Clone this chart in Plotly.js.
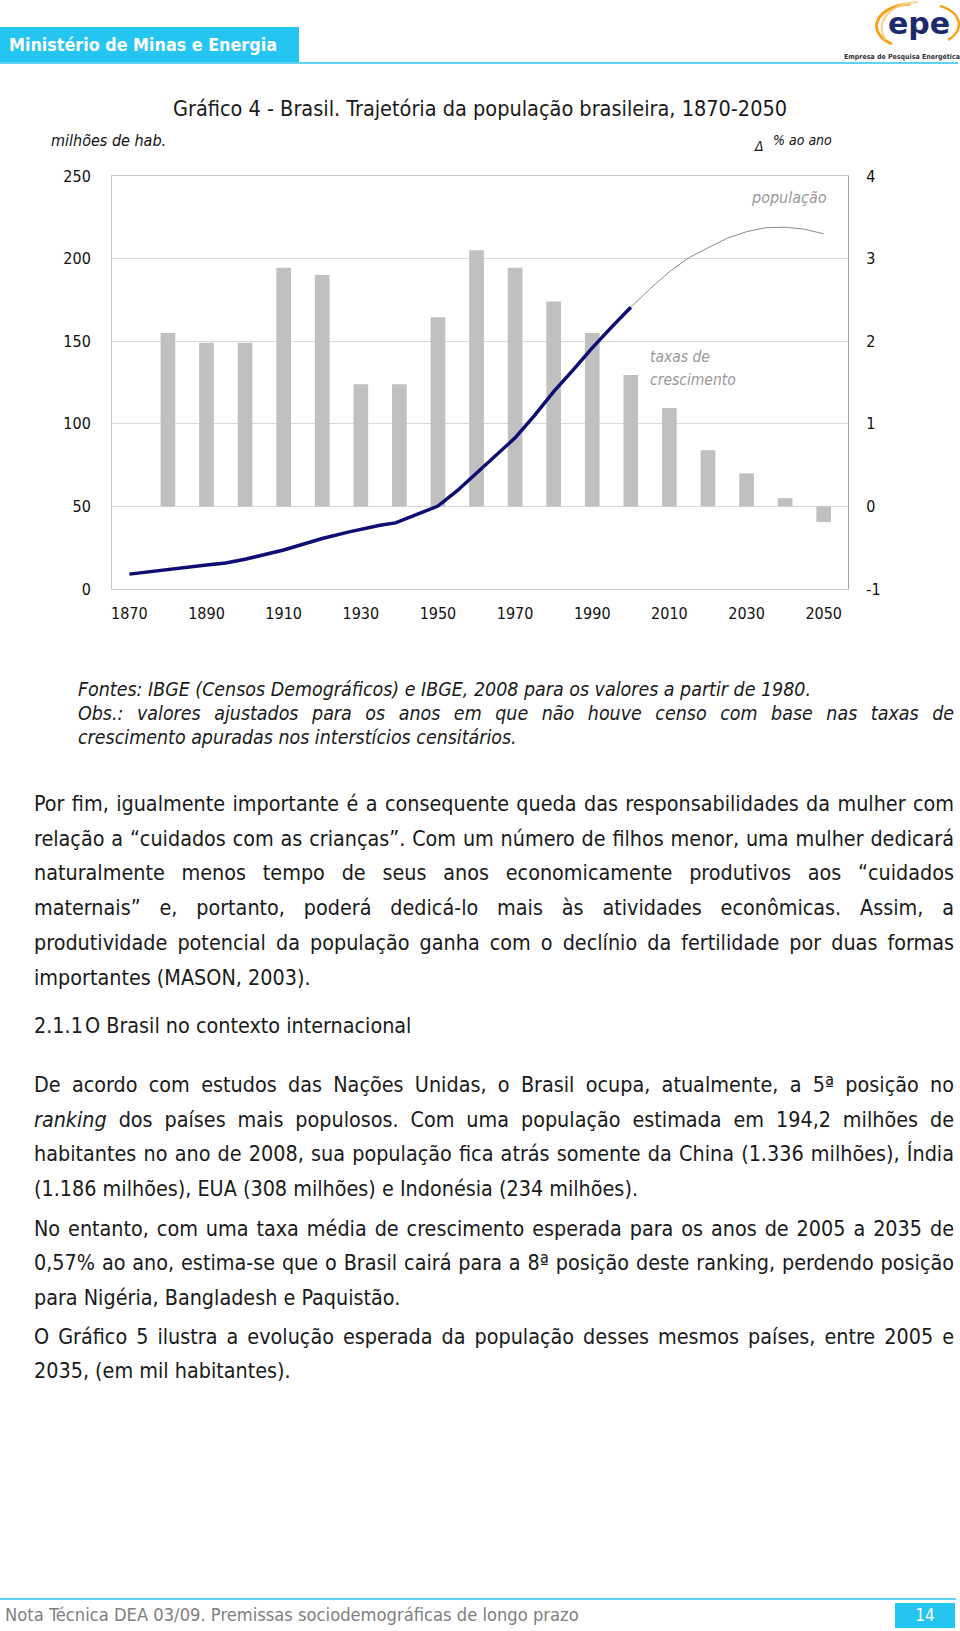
<!DOCTYPE html>
<html>
<head>
<meta charset="utf-8">
<script src="https://cdn.plot.ly/plotly-3.0.1.min.js"></script>
<style>
  html, body { margin:0; padding:0; background:#fff; }
  body { width:960px; height:1631px; position:relative; overflow:hidden;
         font-family:"DejaVu Sans Condensed","DejaVu Sans",sans-serif; color:#1a1a1a; }
  .abs { position:absolute; }
  .ln { position:absolute; left:34px; width:920px; height:26px; line-height:26px;
        font-size:19px; white-space:nowrap; text-align:justify; text-align-last:justify; }
  .note { position:absolute; left:78px; width:876px; height:22px; line-height:22px;
          font-size:15px; font-style:italic; white-space:nowrap; text-align:justify; text-align-last:justify; }
  .ln.last, .note.last { text-align:left; text-align-last:left; }
</style>
</head>
<body>
<!-- header -->
<div class="abs" style="left:0;top:27px;width:299px;height:36px;background:#25c5f2;"></div>
<div class="abs" style="left:9px;top:27px;height:36px;line-height:36px;font-size:17.8px;font-weight:bold;color:#fff;">Ministério de Minas e Energia</div>
<div class="abs" style="left:0;top:62px;width:958px;height:2px;background:#5fd3f3;"></div>
<svg class="abs" style="left:840px;top:0;" width="120" height="62">
  <path d="M 52 44 A 36 22 0 0 1 70 4" fill="none" stroke="#f7a21b" stroke-width="3"/>
  <path d="M 46 40 A 38 26 0 0 1 78 2" fill="none" stroke="#fbd08a" stroke-width="2"/>
  <path d="M 100 6 A 30 20 0 0 1 108 40" fill="none" stroke="#f7a21b" stroke-width="2.5"/>
  <text x="79" y="34" text-anchor="middle" font-family="DejaVu Sans, sans-serif" font-size="30" font-weight="bold" fill="#1c2a6e">epe</text>
  <text x="62" y="59" text-anchor="middle" font-family="DejaVu Sans Condensed, DejaVu Sans, sans-serif" font-size="7" font-weight="bold" fill="#333">Empresa de Pesquisa Energética</text>
</svg>

<!-- chart -->
<div id="chart" class="abs" style="left:0;top:80px;width:960px;height:580px;"></div>

<!-- notes -->
<div class="note last" id="fontes" style="top:679px;">Fontes: IBGE (Censos Demográficos) e IBGE, 2008 para os valores a partir de 1980.</div>
<div class="note" style="top:703px;">Obs.: valores ajustados para os anos em que não houve censo com base nas taxas de</div>
<div class="note last" style="top:727px;">crescimento apuradas nos interstícios censitários.</div>

<!-- body text -->
<div class="ln" id="ref1" style="top:791px;">Por fim, igualmente importante é a consequente queda das responsabilidades da mulher com</div>
<div class="ln" style="top:825.7px;">relação a “cuidados com as crianças”. Com um número de filhos menor, uma mulher dedicará</div>
<div class="ln" style="top:860.4px;">naturalmente menos tempo de seus anos economicamente produtivos aos “cuidados</div>
<div class="ln" style="top:895.1px;">maternais” e, portanto, poderá dedicá-lo mais às atividades econômicas. Assim, a</div>
<div class="ln" style="top:929.8px;">produtividade potencial da população ganha com o declínio da fertilidade por duas formas</div>
<div class="ln last" style="top:964.5px;">importantes (MASON, 2003).</div>

<div class="ln last" style="top:1012.5px;width:60px;">2.1.1</div>
<div class="ln last" style="top:1012.5px;left:85px;width:600px;">O Brasil no contexto internacional</div>

<div class="ln" style="top:1072px;">De acordo com estudos das Nações Unidas, o Brasil ocupa, atualmente, a 5ª posição no</div>
<div class="ln" style="top:1106.5px;"><i>ranking</i> dos países mais populosos. Com uma população estimada em 194,2 milhões de</div>
<div class="ln" style="top:1141px;">habitantes no ano de 2008, sua população fica atrás somente da China (1.336 milhões), Índia</div>
<div class="ln last" style="top:1175.5px;">(1.186 milhões), EUA (308 milhões) e Indonésia (234 milhões).</div>

<div class="ln" style="top:1215.5px;">No entanto, com uma taxa média de crescimento esperada para os anos de 2005 a 2035 de</div>
<div class="ln" style="top:1250px;">0,57% ao ano, estima-se que o Brasil cairá para a 8ª posição deste ranking, perdendo posição</div>
<div class="ln last" style="top:1284.5px;">para Nigéria, Bangladesh e Paquistão.</div>

<div class="ln" style="top:1323.5px;">O Gráfico 5 ilustra a evolução esperada da população desses mesmos países, entre 2005 e</div>
<div class="ln last" style="top:1358px;">2035, (em mil habitantes).</div>

<!-- footer -->
<div class="abs" style="left:0;top:1598px;width:956px;height:2px;background:#5fd3f3;"></div>
<div class="abs" style="left:5px;top:1604px;height:22px;line-height:22px;font-size:18.2px;color:#7f7f7f;">Nota Técnica DEA 03/09. Premissas sociodemográficas de longo prazo</div>
<div class="abs" style="left:895px;top:1603px;width:60px;height:25px;line-height:25px;background:#25c5f2;color:#fff;font-size:17px;text-align:center;">14</div>

<script>
// ---- data ----
const popYears  = [1870, 1880, 1890, 1895, 1900, 1910, 1920, 1927, 1930, 1935, 1939, 1950, 1955, 1960, 1965, 1970, 1975, 1980, 1985, 1990, 1995, 2000];
const popValues = [9.0, 11.9, 14.5, 15.7, 18.0, 23.6, 30.6, 34.6, 36.3, 38.6, 40.0, 50.2, 59.5, 70.0, 80.5, 91.5, 105.0, 119.5, 132.5, 146.0, 158.5, 170.5];
const projYears  = [2000, 2005, 2010, 2015, 2020, 2025, 2030, 2035, 2040, 2045, 2050];
const projValues = [170.5, 181.8, 192.0, 200.5, 206.5, 212.3, 216.3, 218.7, 219.0, 217.8, 215.0];
const rateYears  = [1880, 1890, 1900, 1910, 1920, 1930, 1940, 1950, 1960, 1970, 1980, 1990, 2000, 2010, 2020, 2030, 2040, 2050];
const rateValues = [2.10, 1.98, 1.98, 2.89, 2.80, 1.48, 1.48, 2.29, 3.10, 2.89, 2.48, 2.10, 1.59, 1.19, 0.68, 0.40, 0.10, -0.19];
const xTicks = [1870, 1890, 1910, 1930, 1950, 1970, 1990, 2010, 2030, 2050];
const leftTicks = [0, 50, 100, 150, 200, 250];
const rightTicks = [-1, 0, 1, 2, 3, 4];

const FONT = '"DejaVu Sans Condensed", "DejaVu Sans", sans-serif';

// ---- fit body text sizes to the reference line widths ----
(function fitText() {
  const ctx = document.createElement('canvas').getContext('2d');
  const fam = '"DejaVu Sans Condensed","DejaVu Sans",sans-serif';
  ctx.font = '19px ' + fam;
  const w1 = ctx.measureText(document.getElementById('ref1').textContent).width;
  const bodySize = Math.min(22, 19 * 905 / w1);
  document.querySelectorAll('.ln').forEach(el => el.style.fontSize = bodySize.toFixed(2) + 'px');
  ctx.font = 'italic 15px ' + fam;
  const w2 = ctx.measureText(document.getElementById('fontes').textContent).width;
  const noteSize = Math.min(20, 15 * 733 / w2);
  document.querySelectorAll('.note').forEach(el => el.style.fontSize = noteSize.toFixed(2) + 'px');
})();

const traces = [
  { type:'bar', x: rateYears, y: rateValues, yaxis:'y', width: 3.8,
    marker:{ color:'#c0c0c0', line:{width:0} }, hoverinfo:'skip' },
  { type:'scatter', mode:'lines', x: projYears, y: projValues, yaxis:'y2',
    line:{ color:'#8c8c8c', width:1 }, hoverinfo:'skip' },
  { type:'scatter', mode:'lines', x: popYears, y: popValues, yaxis:'y2',
    line:{ color:'#0d0d73', width:3.5 }, hoverinfo:'skip' }
];

const W = 736;  // plot width
const H = 413;  // plot height
const layout = {
  width: 960, height: 580,
  margin: { l:112, r:112, t:96, b:71, pad:0 },
  paper_bgcolor:'rgba(0,0,0,0)', plot_bgcolor:'#ffffff',
  showlegend:false,
  font:{ family: FONT, size:16, color:'#111' },
  title:{ text:'Gráfico 4 - Brasil. Trajetória da população brasileira, 1870-2050',
          x:0.5, xanchor:'center', xref:'paper', y: 1 - 28/580, yref:'container', yanchor:'middle',
          font:{ family: FONT, size:21.5, color:'#1a1a1a' } },
  xaxis:{ range:[1865.5, 2056.3], tickvals: xTicks, ticktext: xTicks.map(String),
          showgrid:false, zeroline:false, showline:true, mirror:true, linecolor:'#c8c8c8', linewidth:1,
          ticks:'', ticklabelstandoff: 10, tickfont:{ family: FONT, size:16, color:'#111' }, fixedrange:true },
  yaxis:{ range:[-1, 4], side:'right', tickvals: rightTicks, ticktext: rightTicks.map(String),
          showgrid:true, gridcolor:'#d9d9d9', gridwidth:1, zeroline:false,
          showline:true, linecolor:'#a6a6a6', linewidth:1, ticks:'', ticklabelstandoff: 14,
          tickfont:{ family: FONT, size:16, color:'#111' }, fixedrange:true },
  yaxis2:{ range:[0, 250], overlaying:'y', side:'left', tickvals: leftTicks, ticktext: leftTicks.map(String),
           showgrid:false, zeroline:false, showline:true, linecolor:'#c8c8c8', linewidth:1,
           ticks:'', ticklabelstandoff: 17, tickfont:{ family: FONT, size:16, color:'#111' }, fixedrange:true },
  annotations:[
    { text:'<i>milhões de hab.</i>', xref:'paper', yref:'paper', x:(49-112)/W, y:(589.3-141)/H,
      xanchor:'left', yanchor:'middle', showarrow:false, font:{ family: FONT, size:16, color:'#111' } },
    { text:'<i>Δ</i>', xref:'paper', yref:'paper', x:(752-112)/W, y:(589.3-146)/H,
      xanchor:'left', yanchor:'middle', showarrow:false, font:{ family: FONT, size:14, color:'#111' } },
    { text:'<i>% ao ano</i>', xref:'paper', yref:'paper', x:(771-112)/W, y:(589.3-140)/H,
      xanchor:'left', yanchor:'middle', showarrow:false, font:{ family: FONT, size:14, color:'#111' } },
    { text:'<i>população</i>', xref:'paper', yref:'paper', x:(789-112)/W, y:(589.3-198)/H,
      xanchor:'center', yanchor:'middle', showarrow:false, font:{ family: FONT, size:16, color:'#9a9a9a' } },
    { text:'<i>taxas de</i>', xref:'paper', yref:'paper', x:(648-112)/W, y:(589.3-357)/H,
      xanchor:'left', yanchor:'middle', showarrow:false, font:{ family: FONT, size:15.5, color:'#9a9a9a' } },
    { text:'<i>crescimento</i>', xref:'paper', yref:'paper', x:(648-112)/W, y:(589.3-380)/H,
      xanchor:'left', yanchor:'middle', showarrow:false, font:{ family: FONT, size:15.5, color:'#9a9a9a' } }
  ]
};

Plotly.newPlot('chart', traces, layout, { displayModeBar:false, staticPlot:true });
</script>
</body>
</html>
